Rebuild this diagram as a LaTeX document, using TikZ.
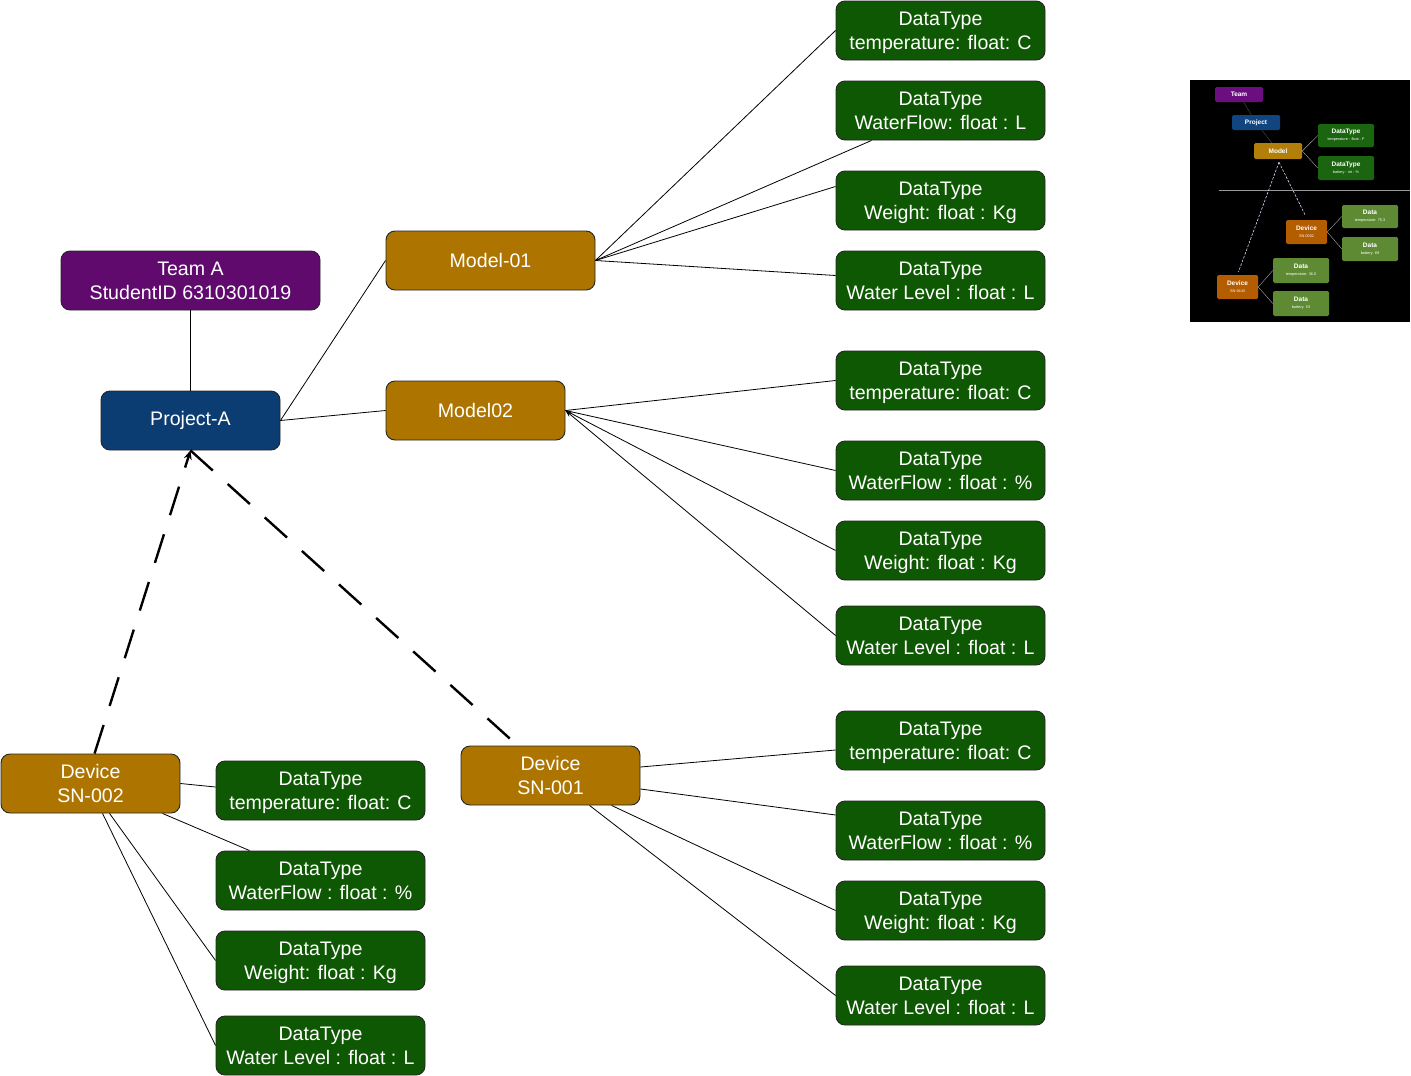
\documentclass[tikz,border=0pt]{standalone}
\usepackage{fontspec}
\setmainfont{Liberation Sans}
\usetikzlibrary{calc,arrows.meta}

\definecolor{teampurple}{HTML}{600A6E}
\definecolor{projblue}{HTML}{0B3C72}
\definecolor{modelgold}{HTML}{AD7500}
\definecolor{dtgreen}{HTML}{0F5803}
\definecolor{insetpurple}{HTML}{6A0E80}
\definecolor{insetblue}{HTML}{10457F}
\definecolor{insetgold}{HTML}{B27F0A}
\definecolor{insetgreen}{HTML}{1B6410}
\definecolor{insetorange}{HTML}{B35C00}
\definecolor{insetolive}{HTML}{5E8A34}

\tikzset{
  box/.style={draw=black!85, line width=0.9pt, rounded corners=9pt,
    minimum height=59pt, inner sep=0pt, text=white, align=center,
    font=\fontsize{19.6}{24}\selectfont},
  twoline/.style={text height=37pt, text depth=0pt},
  teambox/.style={box, twoline, fill=teampurple, minimum width=259pt},
  projbox/.style={box, fill=projblue, minimum width=179pt},
  modelbox/.style={box, fill=modelgold, minimum width=179pt},
  devbox/.style={modelbox, twoline},
  dtbox/.style={box, twoline, fill=dtgreen, minimum width=209pt},
  link/.style={draw=black, line width=0.8pt},
  devlink/.style={draw=black, line width=2.4pt, dash pattern=on 30pt off 20pt},
  mini/.style={rounded corners=1.5pt, inner sep=0pt, text=white, align=center},
  minilink/.style={draw=gray!70, line width=0.4pt},
}

\begin{document}
\begin{tikzpicture}[x=1pt,y=-1pt]
\useasboundingbox[fill=white] (0,0) rectangle (1411,1076);

% --- hierarchy heads ---
\node[teambox] (team) at (190.5,280.5) {Team A\\StudentID 6310301019};
\node[projbox] (proj) at (190.5,420.5) {Project-A};
\node[modelbox, minimum width=209pt] (m1) at (490.5,260.5) {Model-01};
\node[modelbox] (m2) at (475.5,410.5) {Model02};
\node[devbox] (d1) at (550.5,775.5) {Device\\SN-001};
\node[devbox] (d2) at (90.5,783.5) {Device\\SN-002};

% --- data types of Model-01 ---
\node[dtbox] (g1) at (940.5,30.5) {DataType\\temperature: float: C};
\node[dtbox] (g2) at (940.5,110.5) {DataType\\WaterFlow: float : L};
\node[dtbox] (g3) at (940.5,200.5) {DataType\\Weight: float : Kg};
\node[dtbox] (g4) at (940.5,280.5) {DataType\\Water Level : float : L};
% --- data types of Model02 ---
\node[dtbox] (g5) at (940.5,380.5) {DataType\\temperature: float: C};
\node[dtbox] (g6) at (940.5,470.5) {DataType\\WaterFlow : float : \%};
\node[dtbox] (g7) at (940.5,550.5) {DataType\\Weight: float : Kg};
\node[dtbox] (g8) at (940.5,635.5) {DataType\\Water Level : float : L};
% --- data types of SN-001 ---
\node[dtbox] (g9) at (940.5,740.5) {DataType\\temperature: float: C};
\node[dtbox] (g10) at (940.5,830.5) {DataType\\WaterFlow : float : \%};
\node[dtbox] (g11) at (940.5,910.5) {DataType\\Weight: float : Kg};
\node[dtbox] (g12) at (940.5,995.5) {DataType\\Water Level : float : L};
% --- data types of SN-002 ---
\node[dtbox] (l1) at (320.5,790.5) {DataType\\temperature: float: C};
\node[dtbox] (l2) at (320.5,880.5) {DataType\\WaterFlow : float : \%};
\node[dtbox] (l3) at (320.5,960.5) {DataType\\Weight: float : Kg};
\node[dtbox] (l4) at (320.5,1045.5) {DataType\\Water Level : float : L};

% --- connectors ---
\draw[link] (team.south) -- (proj.north);
\draw[link] (proj.east) -- (m1.west);
\draw[link] (proj.east) -- (m2.west);

\draw[link] (m1.east) -- (g1.west);
\draw[link] (m1.east) -- ($(g2.south west)+(36,0)$);
\draw[link] (m1.east) -- ($(g3.west)+(0,-14)$);
\draw[link] (m1.east) -- ($(g4.west)+(0,-5)$);

\draw[link] (m2.east) -- (g5.west);
\draw[link] (m2.east) -- (g6.west);
\draw[link] (m2.east) -- (g7.west);
\draw[link, -{Stealth[length=7pt,width=5pt]}] (g8.west) -- (m2.east);

\draw[link] ($(d1.east)+(0,-8.5)$) -- ($(g9.west)+(0,9.5)$);
\draw[link] ($(d1.east)+(0,13.5)$) -- ($(g10.west)+(0,-15.5)$);
\draw[link] ($(d1.south west)+(151,0)$) -- (g11.west);
\draw[link] ($(d1.south west)+(129,0)$) -- (g12.west);

\draw[link] (d2.east) -- ($(l1.west)+(0,-3.5)$);
\draw[link] ($(d2.south west)+(162,0)$) -- ($(l2.north west)+(34,0)$);
\draw[link] ($(d2.south west)+(109,0)$) -- (l3.west);
\draw[link] ($(d2.south west)+(102,0)$) -- (l4.west);

\draw[devlink, -{Stealth[length=9pt,width=8pt]}] ($(d2.north west)+(94,0)$) -- (proj.south);
\draw[devlink] (proj.south) -- ($(d1.north west)+(57,0)$);

% --- small overview panel ---
\fill[black] (1190,80) rectangle (1410,322);
\coordinate (sepL) at (1219,190);
\coordinate (sepR) at (1410,190);
\draw[gray!80, line width=0.5pt] (sepL) -- (sepR);

\node[mini, fill=insetpurple, minimum width=48pt, minimum height=15pt,
  font=\fontsize{6.5}{7}\selectfont\bfseries] (iteam) at (1239,94.5) {Team};
\node[mini, fill=insetblue, minimum width=48pt, minimum height=15pt,
  font=\fontsize{6.5}{7}\selectfont\bfseries] (iproj) at (1256,122.5) {Project};
\node[mini, fill=insetgold, minimum width=48pt, minimum height=16pt,
  font=\fontsize{6.5}{7}\selectfont\bfseries] (imodel) at (1278,151) {Model};
\node[mini, fill=insetgreen, minimum width=56pt, minimum height=23pt,
  font=\fontsize{6.5}{8}\selectfont] (idt1) at (1346,135.5)
  {\textbf{DataType}\\[-1pt]{\fontsize{3.8}{4}\selectfont temperature : float : F}};
\node[mini, fill=insetgreen, minimum width=56pt, minimum height=24pt,
  font=\fontsize{6.5}{8}\selectfont] (idt2) at (1346,168)
  {\textbf{DataType}\\[-1pt]{\fontsize{3.8}{4}\selectfont battery : int : \%}};

\node[mini, fill=insetorange, minimum width=41pt, minimum height=24pt,
  font=\fontsize{6.5}{8}\selectfont] (idevA) at (1306.5,232)
  {\textbf{Device}\\[-1pt]{\fontsize{3.8}{4}\selectfont SN-0002}};
\node[mini, fill=insetolive, minimum width=56pt, minimum height=23pt,
  font=\fontsize{6.5}{8}\selectfont] (idaA1) at (1370,216.5)
  {\textbf{Data}\\[-1pt]{\fontsize{3.8}{4}\selectfont temperature: 75.3}};
\node[mini, fill=insetolive, minimum width=56pt, minimum height=24pt,
  font=\fontsize{6.5}{8}\selectfont] (idaA2) at (1370,249)
  {\textbf{Data}\\[-1pt]{\fontsize{3.8}{4}\selectfont battery: 89}};

\node[mini, fill=insetorange, minimum width=41pt, minimum height=24pt,
  font=\fontsize{6.5}{8}\selectfont] (idevB) at (1237.5,287)
  {\textbf{Device}\\[-1pt]{\fontsize{3.8}{4}\selectfont SN-9443}};
\node[mini, fill=insetolive, minimum width=56pt, minimum height=25pt,
  font=\fontsize{6.5}{8}\selectfont] (idaB1) at (1301,270.5)
  {\textbf{Data}\\[-1pt]{\fontsize{3.8}{4}\selectfont temperature: 36.0}};
\node[mini, fill=insetolive, minimum width=56pt, minimum height=25pt,
  font=\fontsize{6.5}{8}\selectfont] (idaB2) at (1301,303.5)
  {\textbf{Data}\\[-1pt]{\fontsize{3.8}{4}\selectfont battery: 53}};

\draw[black!70!white, line width=0.4pt] (iteam) -- (iproj);
\draw[black!70!white, line width=0.4pt] (iproj) -- (imodel);
\draw[minilink] (imodel.east) -- (idt1.west);
\draw[minilink] (imodel.east) -- (idt2.west);
\draw[minilink] (idevA.east) -- (idaA1.west);
\draw[minilink] (idevA.east) -- (idaA2.west);
\draw[minilink] (idevB.east) -- (idaB1.west);
\draw[minilink] (idevB.east) -- (idaB2.west);
\draw[blue!15!white, line width=0.6pt, dash pattern=on 2.5pt off 1.5pt]
  ($(imodel.south)+(1,3)$) -- ($(idevA.north)+(-1,-4)$);
\draw[blue!15!white, line width=0.6pt, dash pattern=on 2.5pt off 1.5pt]
  ($(imodel.south)+(1,3)$) -- ($(idevB.north)+(1,-3)$);
\end{tikzpicture}
\end{document}
